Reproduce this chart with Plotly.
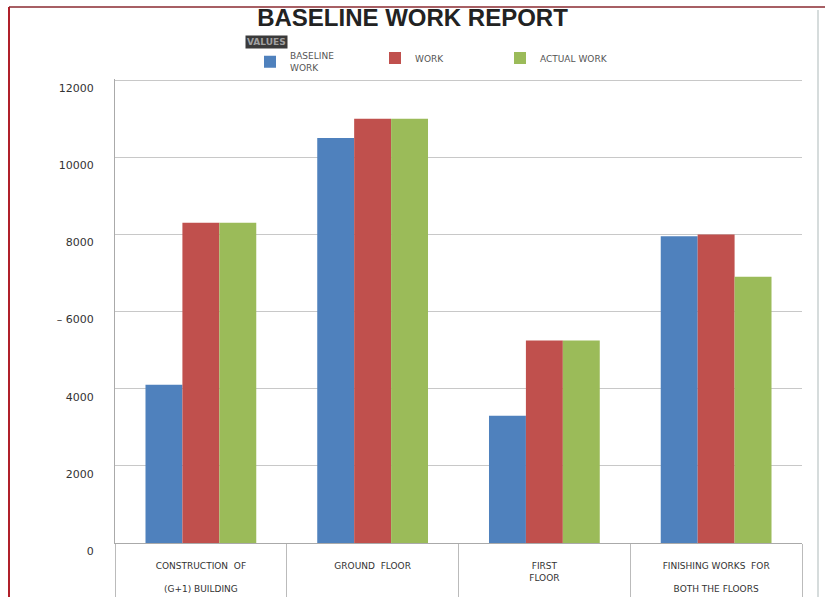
import plotly.graph_objects as go

categories = ["CONSTRUCTION  OF<br><br>(G+1) BUILDING", "GROUND  FLOOR", "FIRST<br>FLOOR",
              "FINISHING WORKS  FOR<br><br>BOTH THE FLOORS"]
series_names = ["BASELINE<br>WORK", "WORK", "ACTUAL WORK"]
baseline_work = [4100, 10500, 3300, 7950]
work = [8300, 11000, 5250, 8000]
actual_work = [8300, 11000, 5250, 6900]
colors = ["#4F81BD", "#C0504D", "#9BBB59"]
y_ticks = [0, 2000, 4000, 6000, 8000, 10000, 12000]
y_tick_labels = ["0", "2000", "4000", "– 6000", "8000", "10000", "12000"]

W, H = 825, 597
L, R, T, B = 115, 23, 79, 54
pw, ph = W - L - R, H - T - B


def px(x):
    return (x - L) / pw


def py(y):
    return (H - B - y) / ph


fig = go.Figure()
for name, vals, c in zip(series_names, [baseline_work, work, actual_work], colors):
    fig.add_trace(go.Bar(x=categories, y=vals, name=name, marker=dict(color=c, line=dict(width=0))))

fig.update_layout(
    width=W, height=H,
    margin=dict(l=L, r=R, t=T, b=B, autoexpand=False),
    paper_bgcolor="white", plot_bgcolor="white",
    barmode="group", bargap=0.355, bargroupgap=0,
    font=dict(family="DejaVu Sans", color="#333"),
    title=dict(text="<b>BASELINE WORK REPORT</b>", x=0.5, xanchor="center",
               y=1 - 18 / H, yanchor="middle",
               font=dict(size=24, color="#222", family="Liberation Sans")),
    showlegend=True,
    legend=dict(orientation="h", x=px(250), xanchor="left", y=py(62), yanchor="middle",
                font=dict(size=9, color="#555"), entrywidth=80, entrywidthmode="pixels",
                itemwidth=30, bgcolor="rgba(0,0,0,0)", tracegroupgap=0),
    annotations=[dict(text="<b>VALUES</b>", x=px(266), y=py(42), xref="paper", yref="paper",
                      xanchor="center", yanchor="middle",
                      showarrow=False, font=dict(size=9, color="#a0a0a0", family="DejaVu Sans"),
                      bgcolor="#3a3a3a", borderpad=1)],
    shapes=[
        dict(type="line", xref="paper", yref="paper", x0=px(9), x1=px(9), y0=py(H), y1=py(7),
             line=dict(color="#b0202a", width=2)),
        dict(type="line", xref="paper", yref="paper", x0=px(9), x1=px(W), y0=py(7), y1=py(7),
             line=dict(color="#8a2a30", width=1.5)),
        dict(type="line", xref="paper", yref="paper", x0=px(818), x1=px(818), y0=py(H), y1=py(10),
             line=dict(color="#c8d0d0", width=1.5)),
    ],
)
fig.update_xaxes(
    type="category", automargin=False,
    showline=True, linecolor="#aaaaaa", linewidth=1,
    ticks="outside", tickson="boundaries", ticklen=54, tickcolor="#bbbbbb", tickwidth=1,
    ticklabelstandoff=14,
    tickfont=dict(size=9, color="#333", family="DejaVu Sans"), showgrid=False, zeroline=False,
)
fig.update_yaxes(
    range=[0, 12030], tickmode="array", tickvals=y_ticks, ticktext=y_tick_labels,
    automargin=False,
    showgrid=True, gridcolor="#c8c8c8", gridwidth=1,
    showline=True, linecolor="#aaaaaa", linewidth=1,
    ticks="", ticklabelstandoff=18, ticklabelshift=8,
    tickfont=dict(size=11, color="#333", family="DejaVu Sans"), zeroline=False,
)
fig.write_html("out.html")
